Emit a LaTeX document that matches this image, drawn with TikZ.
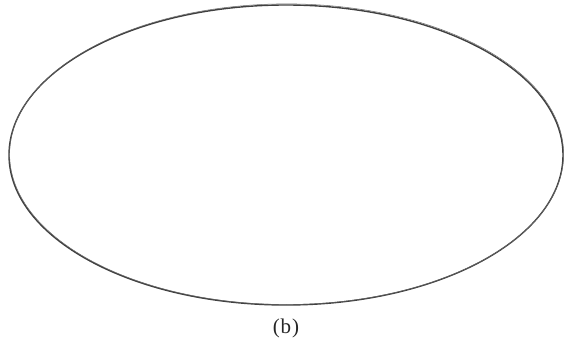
\documentclass[tikz,border=0pt]{standalone}
\usepackage{fontspec}
\setmainfont{Liberation Serif}
\usetikzlibrary{calc}

\begin{document}
\begin{tikzpicture}[x=1pt, y=-1pt]
    % Frame of the picture
    \useasboundingbox (0,0) rectangle (571,345);

    % Ellipse outline (slightly doubled stroke)
    \coordinate (C) at (286,155);
    \draw[line width=1.4pt, black!75] (C) ellipse [x radius=277, y radius=150];
    \draw[line width=0.5pt, black!60] ($(C)+(0.6,-0.8)$) ellipse [x radius=277, y radius=150.3];

    % Caption
    \node[font=\fontsize{21}{24}\selectfont, text=black!85] (cap) at (286,328) {(\kern1pt b\kern1pt)};
\end{tikzpicture}
\end{document}
